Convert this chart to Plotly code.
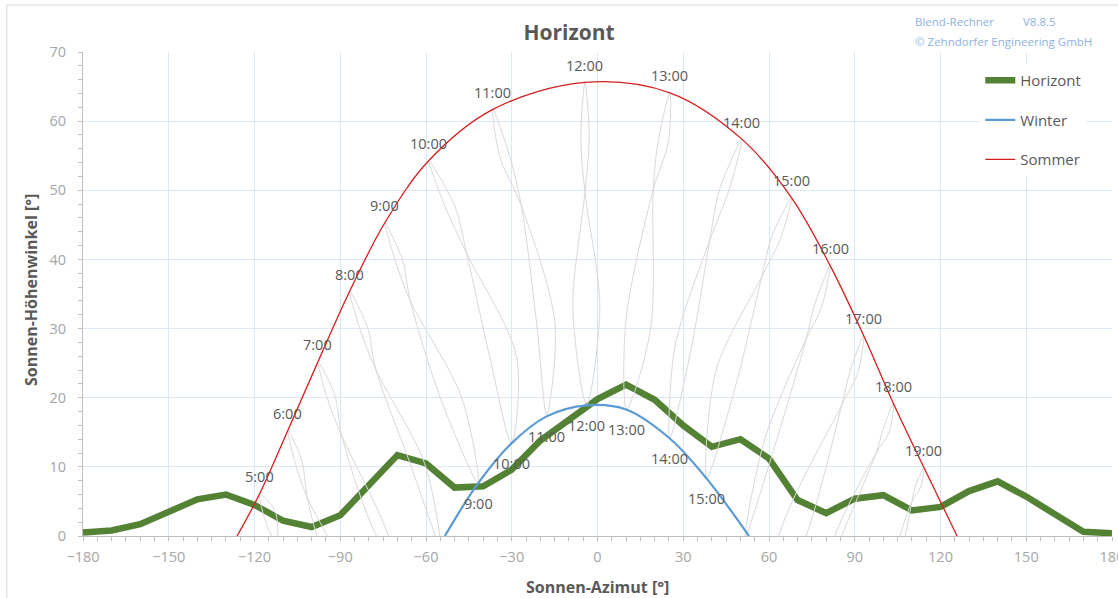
import plotly.graph_objects as go

FONT = "Open Sans"
TEXT_GREY = "#595959"
TICK_GREY = "#a6a6a6"
GRID_BLUE = "#dde8f5"

# -------------------------------------------------
# Data
# -------------------------------------------------
HORIZON_AZ = list(range(-180, 181, 10))
HORIZON_ALT = [0.5, 0.8, 1.7, 3.5, 5.3, 6.0, 4.5, 2.2, 1.3, 3.0,
               7.3, 11.7, 10.5, 7.0, 7.2, 9.6, 13.8, 16.8, 19.8, 21.9,
               19.7, 16.0, 12.9, 14.0, 11.2, 5.2, 3.3, 5.4, 5.9, 3.7,
               4.2, 6.5, 7.9, 5.7, 3.2, 0.6, 0.4]

SUMMER_HOURS = ["5:00", "6:00", "7:00", "8:00", "9:00", "10:00", "11:00", "12:00",
                "13:00", "14:00", "15:00", "16:00", "17:00", "18:00", "19:00"]
SUMMER_AZ = [-118.2, -108.3, -97.8, -86.7, -74.4, -59.0, -36.6, -4.4,
             25.3, 50.5, 67.9, 81.4, 93.1, 103.5, 114.2]
SUMMER_ALT = [6.1, 15.3, 25.2, 35.4, 45.3, 54.3, 61.7, 65.6,
              64.1, 57.4, 48.9, 39.1, 29.0, 19.2, 9.9]
SUMMER_RISE_AZ = -126.1
SUMMER_SET_AZ = 125.8

WINTER_HOURS = ["9:00", "10:00", "11:00", "12:00", "13:00", "14:00", "15:00"]
WINTER_AZ = [-41.8, -30.1, -17.8, -3.8, 10.0, 25.3, 38.2]
WINTER_ALT = [7.6, 13.4, 17.3, 18.9, 18.3, 14.1, 8.3]
WINTER_RISE_AZ = -53.4
WINTER_SET_AZ = 53.0

# analemma loops per hour (azimuth, altitude), 5:00 ... 19:00
ANALEMMA_AZ = [
    [-118.2, -116.2, -111.5, -103.0, -97.0, -107.0, -111.5, -112.8, -118.2],
    [-108.3, -105.8, -101.5, -92.5, -84.0, -96.5, -101.5, -103.5, -108.3],
    [-97.8, -94.6, -89.5, -75.0, -66.0, -79.5, -89.5, -92.0, -97.8],
    [-86.7, -83.0, -77.5, -60.5, -55.0, -66.0, -77.5, -80.5, -86.7],
    [-74.4, -70.5, -65.5, -47.5, -41.8, -55.0, -65.5, -68.3, -74.4],
    [-59.0, -53.4, -45.8, -28.3, -30.1, -37.7, -45.8, -49.9, -59.0],
    [-36.6, -34.2, -26.6, -14.9, -17.8, -21.3, -26.6, -30.7, -36.6],
    [-4.4, -5.8, -4.4, 0.8, -3.8, -8.6, -4.4, -2.9, -4.4],
    [25.3, 21.2, 19.5, 18.6, 10.2, 9.9, 19.5, 24.8, 25.3],
    [50.5, 42.6, 39.3, 32.9, 25.3, 27.1, 39.3, 46.0, 50.5],
    [67.9, 61.2, 57.5, 48.5, 38.2, 41.5, 57.5, 64.0, 67.9],
    [81.4, 76.0, 73.0, 63.5, 51.6, 58.5, 73.0, 78.3, 81.4],
    [93.1, 88.5, 85.5, 73.0, 62.0, 63.5, 85.5, 91.0, 93.1],
    [103.5, 100.0, 97.5, 85.5, 76.0, 83.0, 97.5, 102.0, 103.5],
    [114.2, 111.5, 110.0, 107.6, 98.0, 105.8, 110.0, 113.0, 114.2],
]
ANALEMMA_ALT = [
    [6.1, 2.2, -2.5, -14.0, -26.0, -14.0, -2.5, 3.6, 6.1],
    [15.3, 10.6, 5.5, -2.0, -18.0, -2.5, 5.5, 11.0, 15.3],
    [25.2, 20.0, 14.5, 2.0, -9.0, 2.0, 14.5, 20.5, 25.2],
    [35.4, 29.8, 24.0, 10.5, -1.5, 11.0, 24.0, 30.2, 35.4],
    [45.3, 39.5, 34.0, 20.0, 7.6, 20.0, 34.0, 40.0, 45.3],
    [54.3, 47.7, 40.9, 25.9, 13.4, 25.9, 40.9, 47.7, 54.3],
    [61.7, 54.9, 47.7, 30.8, 17.5, 30.8, 47.7, 54.9, 61.7],
    [65.6, 57.5, 49.7, 33.0, 19.0, 33.0, 49.7, 57.5, 65.6],
    [64.1, 57.0, 50.1, 30.0, 18.3, 31.0, 50.1, 57.0, 64.1],
    [57.4, 50.0, 42.8, 27.4, 14.1, 27.4, 42.8, 50.0, 57.4],
    [48.9, 43.6, 37.5, 22.0, 8.3, 24.0, 37.5, 43.0, 48.9],
    [39.1, 33.5, 28.5, 15.0, -0.3, 14.0, 28.5, 33.0, 39.1],
    [29.0, 24.0, 19.0, 0.0, -10.0, 0.0, 19.0, 23.5, 29.0],
    [19.2, 15.5, 12.0, 0.0, -12.0, 0.0, 12.0, 15.0, 19.2],
    [9.9, 7.5, 5.0, 0.0, -12.0, 0.0, 5.0, 7.0, 9.9],
]

X_TICKS = list(range(-180, 181, 30))
Y_TICKS = list(range(0, 71, 10))


# -------------------------------------------------
# Figure
# -------------------------------------------------
fig = go.Figure()

fig.add_trace(
    go.Scatter(
        x=HORIZON_AZ,
        y=HORIZON_ALT,
        mode="lines",
        name="Horizont",
        legendgroup="h",
        line=dict(color="#548235", width=6.5),
    )
)

for az, alt in zip(ANALEMMA_AZ, ANALEMMA_ALT):
    fig.add_trace(
        go.Scatter(
            x=az,
            y=alt,
            mode="lines",
            line=dict(color="#d9d9d9", width=1, shape="spline", smoothing=0.9),
            showlegend=False,
            hoverinfo="skip",
        )
    )

fig.add_trace(
    go.Scatter(
        x=[WINTER_RISE_AZ] + WINTER_AZ + [WINTER_SET_AZ],
        y=[0] + WINTER_ALT + [0],
        mode="lines",
        name="Winter",
        legendgroup="w",
        line=dict(color="#5b9bd5", width=2.2, shape="spline"),
    )
)

fig.add_trace(
    go.Scatter(
        x=[SUMMER_RISE_AZ] + SUMMER_AZ + [SUMMER_SET_AZ],
        y=[0] + SUMMER_ALT + [0],
        mode="lines",
        name="Sommer",
        legendgroup="s",
        line=dict(color="#d41f1f", width=1.3, shape="spline"),
    )
)

# hour labels
for label, az, alt in zip(SUMMER_HOURS, SUMMER_AZ, SUMMER_ALT):
    fig.add_annotation(x=az, y=alt, text=label, showarrow=False, yshift=17,
                       font=dict(family=FONT, size=14.5, color=TEXT_GREY))
for label, az, alt in zip(WINTER_HOURS, WINTER_AZ, WINTER_ALT):
    fig.add_annotation(x=az, y=alt, text=label, showarrow=False, yshift=-20,
                       font=dict(family=FONT, size=14.5, color=TEXT_GREY))

# header texts
HEADER = dict(family=FONT, size=11.5, color="#8db3e2")
fig.add_annotation(xref="paper", yref="paper", x=0.8064, y=1.064, xanchor="left",
                   yanchor="middle", text="Blend-Rechner", showarrow=False, font=HEADER)
fig.add_annotation(xref="paper", yref="paper", x=0.9115, y=1.064, xanchor="left",
                   yanchor="middle", text="V8.8.5", showarrow=False, font=HEADER)
fig.add_annotation(xref="paper", yref="paper", x=0.8064, y=1.021, xanchor="left",
                   yanchor="middle", text="© Zehndorfer Engineering GmbH",
                   showarrow=False, font=HEADER)

# axis titles
fig.add_annotation(xref="paper", yref="paper", x=0.5, y=-0.105,
                   xanchor="center", yanchor="middle",
                   text="<b>Sonnen-Azimut [°]</b>", showarrow=False,
                   font=dict(family=FONT, size=16, color=TEXT_GREY))
fig.add_annotation(xref="paper", yref="paper", x=-0.0506, y=0.508, textangle=-90,
                   xanchor="center", yanchor="middle",
                   text="<b>Sonnen-Höhenwinkel [°]</b>", showarrow=False,
                   font=dict(family=FONT, size=16, color=TEXT_GREY))

# outer chart border
fig.add_shape(type="rect", xref="paper", yref="paper",
              x0=-0.074, x1=1.05, y0=-0.2, y1=1.097,
              line=dict(color="#d9d9d9", width=1), layer="below")

fig.update_layout(
    width=1118,
    height=598,
    template="plotly_white",
    paper_bgcolor="white",
    plot_bgcolor="white",
    margin=dict(l=83, r=6, t=52, b=62, autoexpand=False),
    font=dict(family=FONT, color=TEXT_GREY),
    title=dict(text="<b>Horizont</b>", x=0.509, xanchor="center", y=0.945,
               yanchor="middle", font=dict(family=FONT, size=21, color=TEXT_GREY)),
    legend=dict(x=0.872, y=0.975, xanchor="left", yanchor="top",
                bgcolor="white", borderwidth=0, tracegroupgap=17,
                font=dict(family=FONT, size=15, color=TEXT_GREY)),
    xaxis=dict(
        range=[-180, 180],
        tickvals=X_TICKS,
        automargin=False,
        showgrid=True, gridcolor=GRID_BLUE, gridwidth=1,
        zeroline=False,
        showline=True, linecolor="#bfbfbf", linewidth=1,
        ticks="outside", ticklen=4, tickcolor="#bfbfbf",
        ticklabelstandoff=4,
        ticklabeloverflow="allow",
        minor=dict(dtick=5, ticks="outside", ticklen=4, tickcolor="#bfbfbf", showgrid=False),
        tickfont=dict(family=FONT, size=14.5, color=TICK_GREY),
    ),
    yaxis=dict(
        range=[0, 70],
        tickvals=Y_TICKS,
        automargin=False,
        showgrid=True, gridcolor=GRID_BLUE, gridwidth=1,
        zeroline=False,
        showline=True, linecolor="#bfbfbf", linewidth=1,
        ticks="outside", ticklen=4, tickcolor="#bfbfbf",
        ticklabelstandoff=9,
        minor=dict(dtick=2, ticks="outside", ticklen=4, tickcolor="#bfbfbf", showgrid=False),
        tickfont=dict(family=FONT, size=14.5, color=TICK_GREY),
    ),
)

fig.write_html("out.html", config={"displayModeBar": False},
               post_script="document.body.style.margin='0px';")
